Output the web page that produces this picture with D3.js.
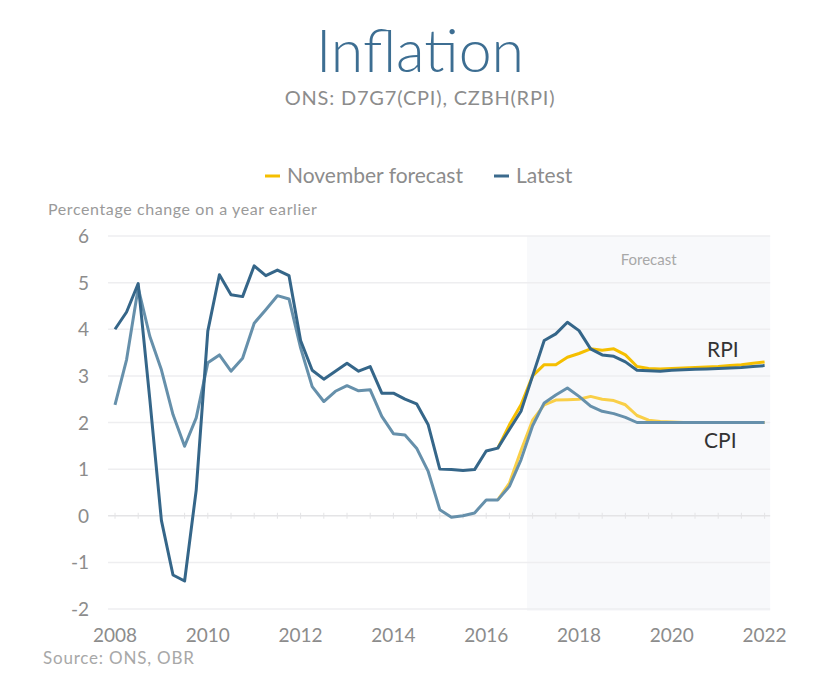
<!DOCTYPE html>
<meta charset="utf-8">
<script src="https://d3js.org/d3.v7.min.js"></script>
<style>
  body { margin: 0; background: #fff; }
  text { font-family: Lato, "Open Sans", sans-serif; }
</style>
<div id="chart"></div>
<script>
// quarterly series, first point = 2008 Q1
var firstYear = 2008;
var rpiLatest = [4.0, 4.37, 4.98, 2.5, -0.1, -1.27, -1.4, 0.55,
  3.96, 5.17, 4.74, 4.7, 5.36, 5.15, 5.27, 5.15,
  3.76, 3.12, 2.93, 3.1, 3.27, 3.1, 3.2, 2.63,
  2.63, 2.5, 2.4, 1.95, 1.0, 0.99, 0.97, 0.99,
  1.39, 1.45, 1.85, 2.24, 3.0, 3.76, 3.9, 4.15,
  3.97, 3.58, 3.45, 3.42, 3.3, 3.12, 3.11, 3.1,
  3.12, 3.13, 3.14, 3.15, 3.16, 3.17, 3.18, 3.2, 3.22];
var cpiLatest = [2.38, 3.35, 4.89, 3.85, 3.13, 2.17, 1.49, 2.1,
  3.28, 3.45, 3.1, 3.38, 4.13, 4.42, 4.72, 4.65,
  3.6, 2.77, 2.45, 2.67, 2.79, 2.68, 2.7, 2.13,
  1.76, 1.73, 1.45, 0.95, 0.13, -0.03, 0.0, 0.06,
  0.34, 0.34, 0.63, 1.2, 1.93, 2.42, 2.59, 2.74,
  2.56, 2.35, 2.24, 2.19, 2.11, 2.0, 2.0, 2.0,
  2.0, 2.0, 2.0, 2.0, 2.0, 2.0, 2.0, 2.0, 2.0];
// November forecast starts at 2016 Q2
var novStart = 33;
var rpiNov = [1.45, 1.95, 2.38, 3.0, 3.24, 3.24, 3.4, 3.48,
  3.58, 3.55, 3.58, 3.45, 3.2, 3.16, 3.15, 3.16,
  3.17, 3.18, 3.19, 3.2, 3.22, 3.24, 3.27, 3.3];
var cpiNov = [0.34, 0.7, 1.4, 2.05, 2.38, 2.48, 2.49, 2.5,
  2.56, 2.5, 2.47, 2.38, 2.15, 2.05, 2.02, 2.01,
  2.0, 2.0, 2.0, 2.0, 2.0, 2.0, 2.0, 2.0];
var xTicks = [2008, 2010, 2012, 2014, 2016, 2018, 2020, 2022];
var yTicks = [-2, -1, 0, 1, 2, 3, 4, 5, 6];
var forecastFrom = 2016.88;

var width = 840, height = 700;
var svg = d3.select("#chart").append("svg")
  .attr("width", width).attr("height", height);

var x = d3.scaleLinear().domain([2008, 2022]).range([115, 764.6]);
var y = d3.scaleLinear().domain([-2, 6]).range([609, 236]);
var xLeft = x(2007.85), xRight = x(2022.12);

// forecast shading
svg.append("rect")
  .attr("x", x(forecastFrom)).attr("y", y(6))
  .attr("width", xRight - x(forecastFrom))
  .attr("height", y(-2.04) - y(6))
  .attr("fill", "#f8f9fb");

// gridlines
svg.append("g").selectAll("line")
  .data(yTicks.filter(function(d) { return d != 0; }))
  .enter().append("line")
  .attr("x1", xLeft).attr("x2", xRight)
  .attr("y1", function(d) { return y(d); })
  .attr("y2", function(d) { return y(d); })
  .attr("stroke", "#eeeef0").attr("stroke-width", 1.5);

// zero line with half-year ticks
svg.append("line")
  .attr("x1", xLeft).attr("x2", xRight)
  .attr("y1", y(0)).attr("y2", y(0))
  .attr("stroke", "#e4e4e6").attr("stroke-width", 1.5);
svg.append("g").selectAll("line")
  .data(d3.range(2008, 2022.01, 0.5))
  .enter().append("line")
  .attr("x1", function(d) { return x(d); })
  .attr("x2", function(d) { return x(d); })
  .attr("y1", y(0) - 3).attr("y2", y(0) + 3)
  .attr("stroke", "#e4e4e6");

// axes labels
svg.append("g").selectAll("text")
  .data(yTicks).enter().append("text")
  .attr("x", 89).attr("y", function(d) { return y(d) + 7; })
  .attr("text-anchor", "end")
  .attr("font-size", 19).attr("fill", "#8c8c8c")
  .text(function(d) { return d; });

svg.append("g").selectAll("text")
  .data(xTicks).enter().append("text")
  .attr("x", function(d) { return x(d); }).attr("y", 642)
  .attr("text-anchor", "middle")
  .attr("font-size", 19).attr("fill", "#8c8c8c")
  .text(function(d) { return d; });

// lines
var line = d3.line()
  .x(function(d) { return x(d.t); })
  .y(function(d) { return y(d.v); });

function toPoints(vals, start) {
  return vals.map(function(v, i) { return { t: firstYear + (start + i) / 4, v: v }; });
}

var series = [
  { vals: cpiNov, start: novStart, color: "#f9cf48" },
  { vals: rpiNov, start: novStart, color: "#f5bf00" },
  { vals: cpiLatest, start: 0, color: "#6690ab" },
  { vals: rpiLatest, start: 0, color: "#356689" }
];
svg.append("g").selectAll("path")
  .data(series).enter().append("path")
  .attr("d", function(s) { return line(toPoints(s.vals, s.start)); })
  .attr("fill", "none")
  .attr("stroke", function(s) { return s.color; })
  .attr("stroke-width", 3)
  .attr("stroke-linejoin", "round");

// titles
svg.append("text").attr("x", 420).attr("y", 72)
  .attr("text-anchor", "middle").attr("font-size", 59).attr("font-weight", 300)
  .attr("fill", "#3d6e92").text("Inflation");
svg.append("text").attr("x", 420).attr("y", 105)
  .attr("text-anchor", "middle").attr("font-size", 20)
  .attr("letter-spacing", 0.8)
  .attr("fill", "#8c8c8c").text("ONS: D7G7(CPI), CZBH(RPI)");

// legend
var legend = [
  { label: "November forecast", color: "#f5bf00", x: 265 },
  { label: "Latest", color: "#3b6a8d", x: 494 }
];
var lg = svg.append("g").selectAll("g").data(legend).enter().append("g");
lg.append("line")
  .attr("x1", function(d) { return d.x; }).attr("x2", function(d) { return d.x + 15; })
  .attr("y1", 176).attr("y2", 176)
  .attr("stroke", function(d) { return d.color; }).attr("stroke-width", 3);
lg.append("text")
  .attr("x", function(d) { return d.x + 22; }).attr("y", 183)
  .attr("font-size", 21).attr("fill", "#8c8c8c")
  .text(function(d) { return d.label; });

svg.append("text").attr("x", 48).attr("y", 215)
  .attr("font-size", 16).attr("letter-spacing", 0.6).attr("fill", "#9a9a9a")
  .text("Percentage change on a year earlier");

svg.append("text").attr("x", (x(forecastFrom) + xRight) / 2).attr("y", 265)
  .attr("text-anchor", "middle").attr("font-size", 15).attr("fill", "#a8a8a8")
  .text("Forecast");

svg.append("text").attr("x", 707).attr("y", 357)
  .attr("font-size", 21).attr("fill", "#333").text("RPI");
svg.append("text").attr("x", 704).attr("y", 448)
  .attr("font-size", 21).attr("fill", "#333").text("CPI");

svg.append("text").attr("x", 43).attr("y", 664)
  .attr("font-size", 17).attr("letter-spacing", 0.8).attr("fill", "#a8a8a8")
  .text("Source: ONS, OBR");
</script>
